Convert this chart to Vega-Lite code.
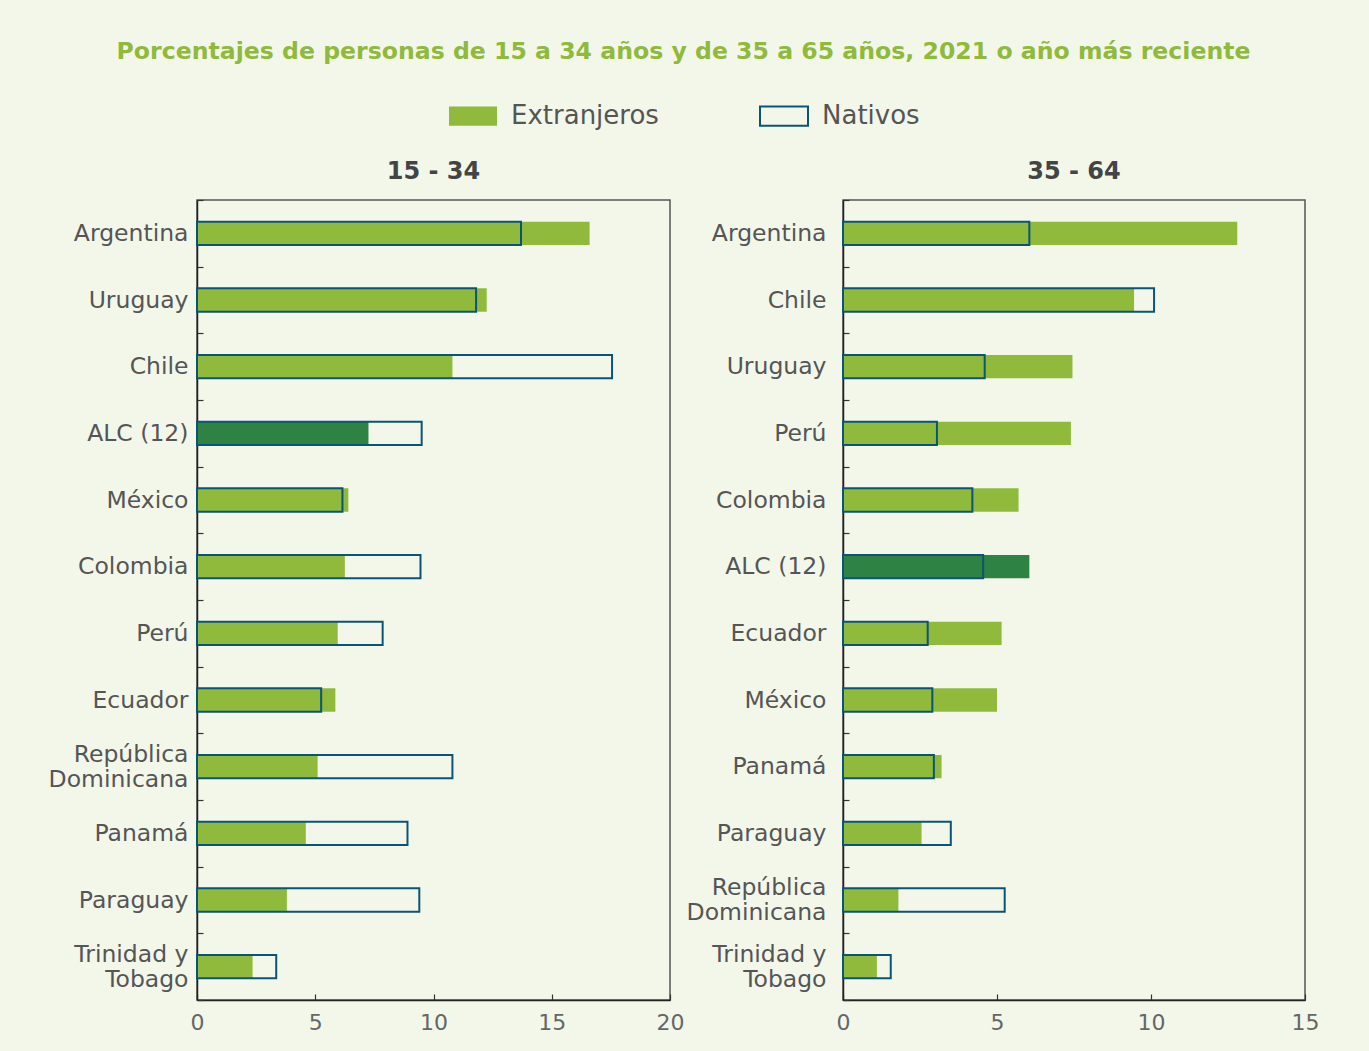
{
  "$schema": "https://vega.github.io/schema/vega-lite/v6.json",
  "background": "#f3f7ea",
  "padding": {"left": 47, "top": 40, "right": 50, "bottom": 20},
  "title": {
    "text": "Porcentajes de personas de 15 a 34 años y de 35 a 65 años, 2021 o año más reciente",
    "anchor": "middle",
    "font": "DejaVu Sans",
    "fontSize": 23.6,
    "fontWeight": "bold",
    "color": "#8fba3b",
    "offset": 27
  },
  "data": {
    "values": [
      {"grupo": "15 - 34", "pais": "Argentina", "serie": "Extranjeros", "valor": 16.6},
      {"grupo": "15 - 34", "pais": "Argentina", "serie": "Nativos", "valor": 13.7},
      {"grupo": "15 - 34", "pais": "Uruguay", "serie": "Extranjeros", "valor": 12.25},
      {"grupo": "15 - 34", "pais": "Uruguay", "serie": "Nativos", "valor": 11.8},
      {"grupo": "15 - 34", "pais": "Chile", "serie": "Extranjeros", "valor": 10.8},
      {"grupo": "15 - 34", "pais": "Chile", "serie": "Nativos", "valor": 17.55},
      {"grupo": "15 - 34", "pais": "ALC (12)", "serie": "Extranjeros", "valor": 7.25},
      {"grupo": "15 - 34", "pais": "ALC (12)", "serie": "Nativos", "valor": 9.5},
      {"grupo": "15 - 34", "pais": "México", "serie": "Extranjeros", "valor": 6.4},
      {"grupo": "15 - 34", "pais": "México", "serie": "Nativos", "valor": 6.15},
      {"grupo": "15 - 34", "pais": "Colombia", "serie": "Extranjeros", "valor": 6.25},
      {"grupo": "15 - 34", "pais": "Colombia", "serie": "Nativos", "valor": 9.45},
      {"grupo": "15 - 34", "pais": "Perú", "serie": "Extranjeros", "valor": 5.95},
      {"grupo": "15 - 34", "pais": "Perú", "serie": "Nativos", "valor": 7.85},
      {"grupo": "15 - 34", "pais": "Ecuador", "serie": "Extranjeros", "valor": 5.85},
      {"grupo": "15 - 34", "pais": "Ecuador", "serie": "Nativos", "valor": 5.25},
      {"grupo": "15 - 34", "pais": "República Dominicana", "serie": "Extranjeros", "valor": 5.1},
      {"grupo": "15 - 34", "pais": "República Dominicana", "serie": "Nativos", "valor": 10.8},
      {"grupo": "15 - 34", "pais": "Panamá", "serie": "Extranjeros", "valor": 4.6},
      {"grupo": "15 - 34", "pais": "Panamá", "serie": "Nativos", "valor": 8.9},
      {"grupo": "15 - 34", "pais": "Paraguay", "serie": "Extranjeros", "valor": 3.8},
      {"grupo": "15 - 34", "pais": "Paraguay", "serie": "Nativos", "valor": 9.4},
      {"grupo": "15 - 34", "pais": "Trinidad y Tobago", "serie": "Extranjeros", "valor": 2.35},
      {"grupo": "15 - 34", "pais": "Trinidad y Tobago", "serie": "Nativos", "valor": 3.35},
      {"grupo": "35 - 64", "pais": "Argentina", "serie": "Extranjeros", "valor": 12.8},
      {"grupo": "35 - 64", "pais": "Argentina", "serie": "Nativos", "valor": 6.05},
      {"grupo": "35 - 64", "pais": "Chile", "serie": "Extranjeros", "valor": 9.45},
      {"grupo": "35 - 64", "pais": "Chile", "serie": "Nativos", "valor": 10.1},
      {"grupo": "35 - 64", "pais": "Uruguay", "serie": "Extranjeros", "valor": 7.45},
      {"grupo": "35 - 64", "pais": "Uruguay", "serie": "Nativos", "valor": 4.6},
      {"grupo": "35 - 64", "pais": "Perú", "serie": "Extranjeros", "valor": 7.4},
      {"grupo": "35 - 64", "pais": "Perú", "serie": "Nativos", "valor": 3.05},
      {"grupo": "35 - 64", "pais": "Colombia", "serie": "Extranjeros", "valor": 5.7},
      {"grupo": "35 - 64", "pais": "Colombia", "serie": "Nativos", "valor": 4.2},
      {"grupo": "35 - 64", "pais": "ALC (12)", "serie": "Extranjeros", "valor": 6.05},
      {"grupo": "35 - 64", "pais": "ALC (12)", "serie": "Nativos", "valor": 4.55},
      {"grupo": "35 - 64", "pais": "Ecuador", "serie": "Extranjeros", "valor": 5.15},
      {"grupo": "35 - 64", "pais": "Ecuador", "serie": "Nativos", "valor": 2.75},
      {"grupo": "35 - 64", "pais": "México", "serie": "Extranjeros", "valor": 5.0},
      {"grupo": "35 - 64", "pais": "México", "serie": "Nativos", "valor": 2.9},
      {"grupo": "35 - 64", "pais": "Panamá", "serie": "Extranjeros", "valor": 3.2},
      {"grupo": "35 - 64", "pais": "Panamá", "serie": "Nativos", "valor": 2.95},
      {"grupo": "35 - 64", "pais": "Paraguay", "serie": "Extranjeros", "valor": 2.55},
      {"grupo": "35 - 64", "pais": "Paraguay", "serie": "Nativos", "valor": 3.5},
      {"grupo": "35 - 64", "pais": "República Dominicana", "serie": "Extranjeros", "valor": 1.8},
      {"grupo": "35 - 64", "pais": "República Dominicana", "serie": "Nativos", "valor": 5.25},
      {"grupo": "35 - 64", "pais": "Trinidad y Tobago", "serie": "Extranjeros", "valor": 1.1},
      {"grupo": "35 - 64", "pais": "Trinidad y Tobago", "serie": "Nativos", "valor": 1.55}
    ]
  },
  "hconcat": [
    {
      "title": {"text": "15 - 34"},
      "width": 473,
      "height": 800,
      "transform": [{"filter": "datum.grupo === '15 - 34'"}],
      "encoding": {
        "y": {
          "field": "pais", "type": "nominal",
          "sort": ["Argentina", "Uruguay", "Chile", "ALC (12)", "México", "Colombia", "Perú", "Ecuador", "República Dominicana", "Panamá", "Paraguay", "Trinidad y Tobago"],
          "scale": {"paddingInner": 0, "paddingOuter": 0},
          "axis": {"labelPadding": 15}
        },
        "x": {
          "field": "valor", "type": "quantitative",
          "scale": {"domain": [0, 20], "nice": false},
          "axis": {"values": [0, 5, 10, 15, 20]}
        }
      },
      "layer": [
        {
          "transform": [{"filter": "datum.serie === 'Extranjeros'"}],
          "mark": {"type": "bar", "height": {"band": 0.35}},
          "encoding": {
            "fill": {
              "condition": {"test": "datum.pais === 'ALC (12)'", "value": "#2e8244"},
              "field": "serie", "type": "nominal",
              "scale": {"domain": ["Extranjeros", "Nativos"], "range": ["#8fba3b", "transparent"]},
              "legend": {}
            }
          }
        },
        {
          "transform": [{"filter": "datum.serie === 'Nativos'"}],
          "mark": {"type": "bar", "height": {"band": 0.35}, "fill": "transparent", "strokeWidth": 2},
          "encoding": {
            "stroke": {
              "field": "serie", "type": "nominal",
              "scale": {"domain": ["Extranjeros", "Nativos"], "range": ["transparent", "#0b5478"]},
              "legend": {}
            }
          }
        }
      ]
    },
    {
      "title": {"text": "35 - 64"},
      "width": 462,
      "height": 800,
      "transform": [{"filter": "datum.grupo === '35 - 64'"}],
      "encoding": {
        "y": {
          "field": "pais", "type": "nominal",
          "sort": ["Argentina", "Chile", "Uruguay", "Perú", "Colombia", "ALC (12)", "Ecuador", "México", "Panamá", "Paraguay", "República Dominicana", "Trinidad y Tobago"],
          "scale": {"paddingInner": 0, "paddingOuter": 0},
          "axis": {"labelPadding": 23}
        },
        "x": {
          "field": "valor", "type": "quantitative",
          "scale": {"domain": [0, 15], "nice": false},
          "axis": {"values": [0, 5, 10, 15]}
        }
      },
      "layer": [
        {
          "transform": [{"filter": "datum.serie === 'Extranjeros'"}],
          "mark": {"type": "bar", "height": {"band": 0.35}},
          "encoding": {
            "fill": {
              "condition": {"test": "datum.pais === 'ALC (12)'", "value": "#2e8244"},
              "field": "serie", "type": "nominal",
              "scale": {"domain": ["Extranjeros", "Nativos"], "range": ["#8fba3b", "transparent"]},
              "legend": {}
            }
          }
        },
        {
          "transform": [{"filter": "datum.serie === 'Nativos'"}],
          "mark": {"type": "bar", "height": {"band": 0.35}, "fill": "transparent", "strokeWidth": 2},
          "encoding": {
            "stroke": {
              "field": "serie", "type": "nominal",
              "scale": {"domain": ["Extranjeros", "Nativos"], "range": ["transparent", "#0b5478"]},
              "legend": {}
            }
          }
        }
      ]
    }
  ],
  "bounds": "flush",
  "spacing": 173,
  "resolve": {"scale": {"fill": "shared", "stroke": "shared"}},
  "config": {
    "font": "DejaVu Sans",
    "view": {"stroke": "#555555", "strokeWidth": 1.5},
    "title": {"fontSize": 24, "fontWeight": "bold", "color": "#444444", "offset": 4},
    "axis": {
      "title": null,
      "grid": false,
      "domainColor": "#222222",
      "domainWidth": 1.5,
      "tickColor": "#333333",
      "tickWidth": 1.2,
      "tickSize": -6,
      "labelFontSize": 22,
      "labelColor": "#555555"
    },
    "axisY": {
      "tickBand": "extent",
      "labelFontSize": 23.5,
      "labelLineHeight": 25,
      "labelOffset": {"condition": {"test": "indexof(['República Dominicana', 'Trinidad y Tobago'], datum.value) >= 0", "value": -12.5}, "value": 0},
      "labelExpr": "datum.label === 'República Dominicana' ? ['República', 'Dominicana'] : datum.label === 'Trinidad y Tobago' ? ['Trinidad y', 'Tobago'] : datum.label"
    },
    "axisX": {"labelFlush": false, "labelPadding": 18, "labelColor": "#666666"},
    "legend": {
      "orient": "none",
      "legendX": 251,
      "legendY": -109,
      "direction": "horizontal",
      "title": null,
      "symbolType": "M-1,-0.4H1V0.4H-1Z",
      "symbolSize": 2304,
      "symbolStrokeWidth": 2,
      "labelFontSize": 26,
      "labelColor": "#555555",
      "labelOffset": 13,
      "columnPadding": 97
    }
  }
}
